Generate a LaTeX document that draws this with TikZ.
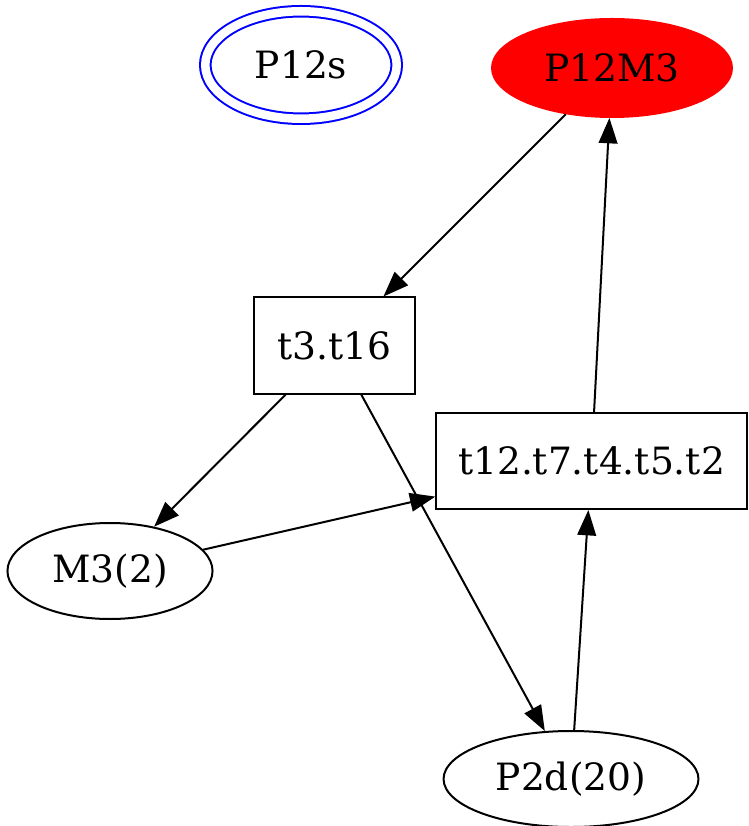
\documentclass[tikz,border=0pt]{standalone}
\usepackage{fontspec}
\setmainfont{DejaVu Serif}
\usetikzlibrary{shapes.geometric,arrows.meta}
\begin{document}
\begin{tikzpicture}[x=0.375pt,y=-0.375pt,
  every node/.style={font=\fontsize{14.1pt}{16pt}\selectfont, inner sep=0pt, line width=0.75pt},
  ell/.style={ellipse, draw, minimum height=36pt},
  box/.style={rectangle, draw, minimum height=36pt},
  edge/.style={line width=0.75pt, -{Triangle[length=9.5pt,width=7pt]}}]
\useasboundingbox (0,0) rectangle (748,826);
\node[ell, draw=blue, double, double distance=3.2pt, minimum width=71.8pt, minimum height=40.3pt] (P12s) at (301,65) {P12s};
\node[ell, draw=red, fill=red, minimum width=90pt, minimum height=36.75pt] (P12M3) at (612,68) {P12M3};
\node[box, minimum width=60.4pt] (t3) at (334.5,345.5) {t3.t16};
\node[box, minimum width=116.4pt] (t12) at (591.5,461) {t12.t7.t4.t5.t2};
\node[ell, minimum width=76.9pt] (M3) at (110,571) {M3(2)};
\node[ell, minimum width=95.6pt] (P2d) at (571,779) {P2d(20)};
\draw[edge] (P12M3) -- (t3);
\draw[edge] (t12) -- (P12M3);
\draw[edge] (t3) -- (M3);
\draw[edge] (t3) -- (P2d);
\draw[edge] (M3) -- (t12);
\draw[edge] (P2d) -- (t12);
\end{tikzpicture}
\end{document}
